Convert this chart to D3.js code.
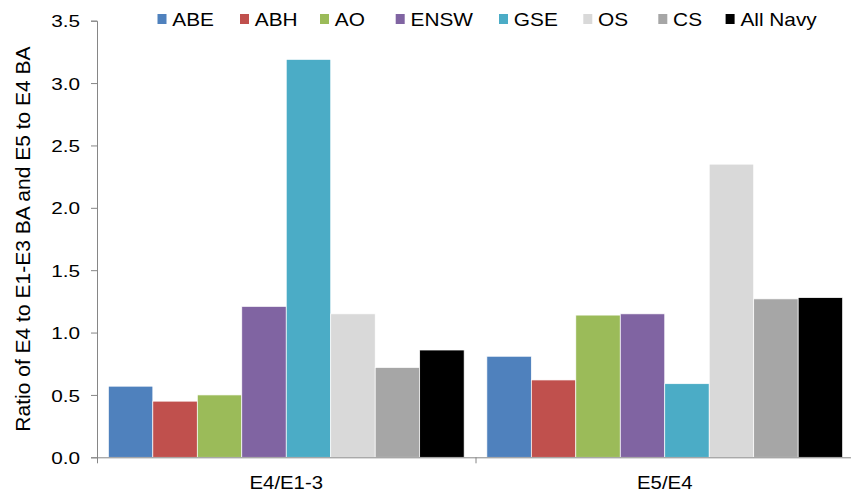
<!DOCTYPE html>
<html><head><meta charset="utf-8">
<script src="https://cdn.jsdelivr.net/npm/d3@7"></script>
<style>body{margin:0;background:#fff}svg{display:block}text{font-family:"Liberation Sans",Arial,sans-serif;fill:#000}</style>
</head><body><svg id="c" width="851" height="496"></svg>
<script>
const categories = ["E4/E1-3", "E5/E4"];
const seriesNames = ["ABE", "ABH", "AO", "ENSW", "GSE", "OS", "CS", "All Navy"];
const seriesColors = ["#4F81BD", "#C0504D", "#9BBB59", "#8064A2", "#4BACC6", "#D9D9D9", "#A6A6A6", "#000000"];
const valuesE4 = [0.57, 0.45, 0.50, 1.21, 3.19, 1.15, 0.72, 0.86];
const valuesE5 = [0.81, 0.62, 1.14, 1.15, 0.59, 2.35, 1.27, 1.28];
const yTicks = [0, 0.5, 1.0, 1.5, 2.0, 2.5, 3.0, 3.5];
const yTitle = "Ratio of E4 to E1-E3 BA and E5 to E4 BA";

(function () {
const svg = d3.select("#c");
const pLeft = 97, pRight = 854, pTop = 20.7, pBottom = 457.3;
const x0 = d3.scaleBand().domain(categories).range([pLeft, pRight]).paddingInner(0).paddingOuter(0);
const groupPad = 11.35;
const x1 = d3.scaleBand().domain(seriesNames).range([groupPad, x0.bandwidth() - groupPad]).padding(0);
const y = d3.scaleLinear().domain([0, 3.5]).range([pBottom, pTop]);
const color = d3.scaleOrdinal().domain(seriesNames).range(seriesColors);
const data = [valuesE4, valuesE5];

function stretch(sel, sx) {
  sel.each(function () {
    const w = this.getComputedTextLength();
    this.setAttribute("textLength", (w * sx).toFixed(2));
    this.setAttribute("lengthAdjust", "spacingAndGlyphs");
  });
}

const g = svg.append("g");
categories.forEach((c, ci) => {
  g.append("g").attr("transform", `translate(${x0(c)},0)`)
    .selectAll("rect").data(seriesNames.map((s, i) => ({s, v: data[ci][i]})))
    .join("rect")
    .attr("x", d => x1(d.s)).attr("width", x1.bandwidth())
    .attr("y", d => y(d.v)).attr("height", d => y(0) - y(d.v))
    .attr("fill", d => color(d.s))
    .attr("stroke", "#fff").attr("stroke-width", 0.7);
});

const ya = svg.append("g").attr("transform", `translate(${pLeft},0)`)
  .call(d3.axisLeft(y).tickValues(yTicks).tickFormat(d3.format(".1f")).tickSize(6).tickPadding(11));
ya.select(".domain").attr("stroke", "#868686");
ya.selectAll(".tick line").attr("stroke", "#868686");
ya.selectAll(".tick text").style("font-size", "17px").attr("fill", "#000").attr("dy", "0.36em");
stretch(ya.selectAll(".tick text"), 1.22);

const xa = svg.append("g").attr("transform", `translate(0,${pBottom})`)
  .call(d3.axisBottom(x0).tickSize(0).tickPadding(0));
xa.select(".domain").attr("stroke", "#868686").attr("d", `M${pLeft},0.5H${pRight}`);
xa.selectAll(".tick text").style("font-size", "17.7px").attr("fill", "#000").attr("dy", null).attr("y", 32);
stretch(xa.selectAll(".tick text"), 1.15);
svg.append("g").selectAll("line").data([pLeft, x0(categories[1])]).join("line")
  .attr("x1", d => d + 0.5).attr("x2", d => d + 0.5)
  .attr("y1", pBottom).attr("y2", pBottom + 6).attr("stroke", "#868686");

svg.append("text").attr("transform", `translate(29.5,239) rotate(-90)`)
  .attr("text-anchor", "middle").style("font-size", "21px").text(yTitle);

const legX = [157.5, 240, 320, 395.7, 499, 583.3, 658.3, 725.6];
const leg = svg.append("g").selectAll("g").data(seriesNames).join("g")
  .attr("transform", (d, i) => `translate(${legX[i]},14)`);
leg.append("rect").attr("width", 9).attr("height", 10).attr("fill", d => color(d));
const lt = leg.append("text").attr("x", 14.8).attr("y", 12).style("font-size", "18.6px").text(d => d);
stretch(lt, 1.12);
})();
</script></body></html>
